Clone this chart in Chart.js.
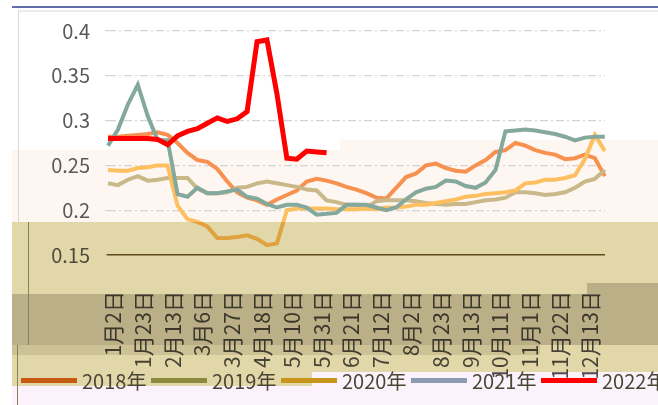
<!DOCTYPE html>
<html>
<head>
<meta charset="utf-8">
<script src="https://cdn.jsdelivr.net/npm/chart.js@4.4.0/dist/chart.umd.min.js"></script>
<style>
  html, body { margin: 0; padding: 0; background: #fff; }
  #wrap { width: 658px; height: 405px; }
</style>
</head>
<body>
<div id="wrap"><canvas id="chart"></canvas></div>
<script>
// trading days, one point every 5 sessions; every 3rd one is printed on the axis
var dates = ['1月2日','1月9日','1月16日','1月23日','1月30日','2月6日','2月13日','2月20日','2月27日',
  '3月6日','3月13日','3月20日','3月27日','4月3日','4月11日','4月18日','4月25日','5月3日',
  '5月10日','5月17日','5月24日','5月31日','6月7日','6月14日','6月21日','6月28日','7月5日',
  '7月12日','7月19日','7月26日','8月2日','8月9日','8月16日','8月23日','8月30日','9月6日',
  '9月13日','9月20日','9月27日','10月11日','10月18日','10月25日','11月1日','11月8日','11月15日',
  '11月22日','11月29日','12月6日','12月13日','12月20日','12月27日'];

var years = ['2018年', '2019年', '2020年', '2021年', '2022年'];

var s2018 = [0.282,0.282,0.283,0.284,0.285,0.287,0.284,0.275,0.264,0.256,0.254,0.246,0.232,0.220,0.214,0.211,0.206,
  0.212,0.217,0.222,0.232,0.235,0.233,0.230,0.226,0.223,0.219,0.214,0.213,0.225,0.237,0.241,0.250,0.252,
  0.247,0.244,0.243,0.250,0.256,0.265,0.267,0.275,0.272,0.267,0.264,0.262,0.257,0.258,0.262,0.258,0.238];
var s2019 = [0.230,0.228,0.234,0.238,0.233,0.234,0.236,0.236,0.236,0.224,0.219,0.219,0.220,0.225,0.226,0.230,0.232,
  0.230,0.228,0.226,0.223,0.222,0.211,0.209,0.206,0.206,0.203,0.210,0.211,0.211,0.211,0.210,0.208,0.207,
  0.206,0.207,0.207,0.209,0.211,0.212,0.214,0.220,0.220,0.219,0.217,0.218,0.220,0.225,0.232,0.235,0.245];
var s2020 = [0.245,0.244,0.244,0.247,0.248,0.250,0.250,0.205,0.190,0.187,0.182,0.169,0.169,0.170,0.172,0.168,0.161,
  0.163,0.200,0.202,0.202,0.202,0.202,0.201,0.201,0.201,0.202,0.201,0.203,0.203,0.204,0.206,0.206,0.208,
  0.210,0.212,0.215,0.216,0.218,0.219,0.220,0.222,0.230,0.231,0.234,0.234,0.236,0.239,0.257,0.284,0.266];
var s2021 = [0.272,0.290,0.318,0.340,0.305,0.278,0.278,0.218,0.215,0.225,0.219,0.219,0.221,0.223,0.215,0.213,0.207,
  0.203,0.206,0.206,0.203,0.195,0.196,0.197,0.206,0.206,0.206,0.203,0.200,0.203,0.212,0.220,0.224,0.226,
  0.233,0.232,0.227,0.225,0.231,0.245,0.288,0.289,0.290,0.289,0.287,0.285,0.282,0.278,0.281,0.282,0.282];
var s2022 = [0.280,0.280,0.280,0.280,0.280,0.279,0.273,0.283,0.288,0.291,0.297,0.303,0.299,0.302,0.310,0.388,0.390,
  0.330,0.258,0.257,0.266,0.265,0.264];

var yTicks = [0.15, 0.2, 0.25, 0.3, 0.35, 0.4];

var lineColors = ['#f79150', '#c9b98a', '#fdbf5f', '#84a99c', '#ff0000'];
var legendColors = ['#c55a11', '#8c8a3c', '#c8951c', '#8c9cb0', '#ff0000'];
var series = [s2018, s2019, s2020, s2021, s2022];

var FONT = "'Noto Sans CJK SC', 'Noto Sans', sans-serif";

// page backdrop, the tinted bands of the original snapshot, and the legend
var backdrop = {
  id: 'backdrop',
  beforeDraw: function(chart) {
    var c = chart.ctx;
    c.save();
    c.fillStyle = '#ffffff';
    c.fillRect(0, 0, chart.width, chart.height);
    c.fillStyle = '#fef6f0';
    c.fillRect(12, 150, 328, 72);
    c.fillRect(340, 140, 318, 82);
    c.strokeStyle = '#2f3b8f';
    c.lineWidth = 1.5;
    c.beginPath(); c.moveTo(12, 7); c.lineTo(658, 7); c.stroke();
    c.strokeStyle = '#d9d9d9';
    c.lineWidth = 1;
    c.beginPath(); c.moveTo(18, 11); c.lineTo(658, 11); c.moveTo(18.5, 11); c.lineTo(18.5, 222); c.stroke();
    c.restore();
  },
  afterDraw: function(chart) {
    var c = chart.ctx;
    c.save();
    c.globalCompositeOperation = 'multiply';
    c.fillStyle = '#e2d7a9';
    c.fillRect(12, 222, 300, 164);
    c.fillRect(312, 222, 346, 150);
    c.fillStyle = '#d2d0cb';
    c.fillRect(12, 294, 575, 51);
    c.fillRect(587, 283, 71, 62);
    c.fillStyle = '#e8e6e2';
    c.fillRect(12, 345, 528, 10);
    c.fillStyle = '#fcf2fc';
    c.fillRect(12, 386, 300, 19);
    c.fillRect(312, 372, 346, 33);
    c.restore();

    c.save();
    c.strokeStyle = '#8a8060';
    c.lineWidth = 1;
    c.beginPath(); c.moveTo(28.5, 222); c.lineTo(28.5, 345); c.moveTo(17.5, 345); c.lineTo(17.5, 405); c.stroke();
    c.font = '20px ' + FONT;
    c.textBaseline = 'middle';
    for (var i = 0; i < years.length; i++) {
      var x0 = 21 + i * 130;
      c.fillStyle = legendColors[i];
      c.fillRect(x0, 378, 56, 5);
      c.fillStyle = '#4a4535';
      c.fillText(years[i], x0 + 61, 381);
    }
    c.restore();
  }
};

var ctx = document.getElementById('chart').getContext('2d');
var chart = new Chart(ctx, {
  type: 'line',
  data: {
    labels: dates,
    datasets: series.map(function(d, i) {
      return {
        label: years[i],
        data: d,
        borderColor: lineColors[i],
        backgroundColor: lineColors[i],
        borderWidth: i === 4 ? 5 : 4,
        pointRadius: 0,
        tension: 0,
        fill: false,
        order: 4 - i
      };
    })
  },
  options: {
    responsive: true,
    maintainAspectRatio: false,
    animation: false,
    layout: { padding: { left: 8, right: 16, top: 31, bottom: 0 } },
    scales: {
      x: {
        type: 'category',
        offset: false,
        grid: { display: false },
        border: { display: true, color: '#6a5a2a', width: 1.5 },
        ticks: {
          autoSkip: false,
          minRotation: 90,
          maxRotation: 90,
          padding: 28,
          labelOffset: 5,
          color: '#505050',
          font: { family: FONT, size: 21 },
          callback: function(v, i) { return i % 3 === 0 ? dates[i] : ''; }
        },
        afterFit: function(s) { s.height = 150; }
      },
      y: {
        min: 0.15,
        max: 0.4,
        afterBuildTicks: function(s) { s.ticks = yTicks.map(function(v) { return { value: v }; }); },
        grid: { color: '#d4d4d4', lineWidth: 1.2, drawTicks: true, tickLength: 3 },
        border: { display: false, dash: [8, 3, 2, 3] },
        ticks: {
          padding: 15,
          color: '#595959',
          font: { family: FONT, size: 20 },
          callback: function(v) { return String(Number(v.toFixed(2))); }
        },
        afterFit: function(s) { s.width = 100; }
      }
    },
    plugins: {
      legend: { display: false },
      tooltip: { enabled: false }
    }
  },
  plugins: [backdrop]
});
</script>
</body>
</html>
